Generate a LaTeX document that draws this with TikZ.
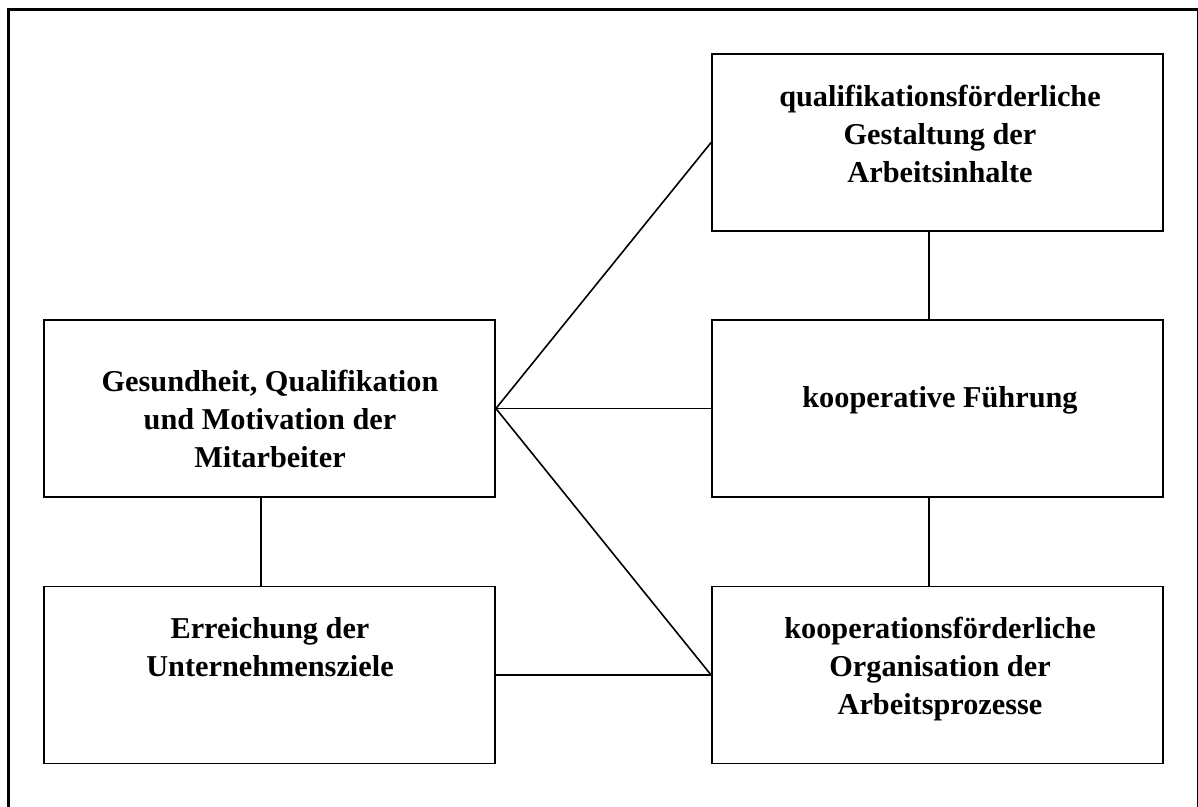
\documentclass[tikz,border=0pt]{standalone}
\usepackage{fontspec}
\setmainfont{Liberation Serif}
\begin{document}
\begin{tikzpicture}[x=1pt,y=-1pt,
  box/.style={draw=black,line width=1.8pt,rectangle,minimum width=#1,minimum height=177pt,inner sep=0pt},
  lbl/.style={align=center,font=\fontsize{30.3}{38}\selectfont\bfseries,inner sep=0pt},
  conn/.style={draw=black,line width=1.6pt}]
\useasboundingbox (0,0) rectangle (1198,806);
\clip (0,0) rectangle (1198,806);
\fill[white] (0,0) rectangle (1198,806);
\draw[line width=3pt] (8.3,9.7) rectangle (1198.6,840);
% boxes
\node[box=451pt] (lm) at (269.5,408.5) {};
\node[box=451pt] (lb) at (269.5,675) {};
\node[box=451pt] (rt) at (937.5,142.5) {};
\node[box=451pt] (rm) at (937.5,408.5) {};
\node[box=451pt] (rb) at (937.5,675) {};
% labels
\node[lbl] (tlm) at (270,419) {Gesundheit, Qualifikation\\und Motivation der\\Mitarbeiter};
\node[lbl] (tlb) at (270,647) {Erreichung der\\Unternehmensziele};
\node[lbl] (trt) at (940,134.3) {qualifikationsförderliche\\Gestaltung der\\Arbeitsinhalte};
\node[lbl] (trm) at (940,400.5) {kooperative Führung};
\node[lbl] (trb) at (940,669.5) {kooperationsförderliche\\Organisation der\\Arbeitsprozesse};
% connectors
\draw[conn] (lm.east) -- (rt.west);
\draw[conn] (lm.east) -- (rm.west);
\draw[conn] (lm.east) -- (rb.west);
\draw[conn] (lb.east) -- (rb.west);
\draw[conn] ([xshift=-8.8pt]lm.south) -- ([xshift=-8.8pt]lb.north);
\draw[conn] ([xshift=-8.5pt]rt.south) -- ([xshift=-8.5pt]rm.north);
\draw[conn] ([xshift=-8.5pt]rm.south) -- ([xshift=-8.5pt]rb.north);
\end{tikzpicture}
\end{document}
